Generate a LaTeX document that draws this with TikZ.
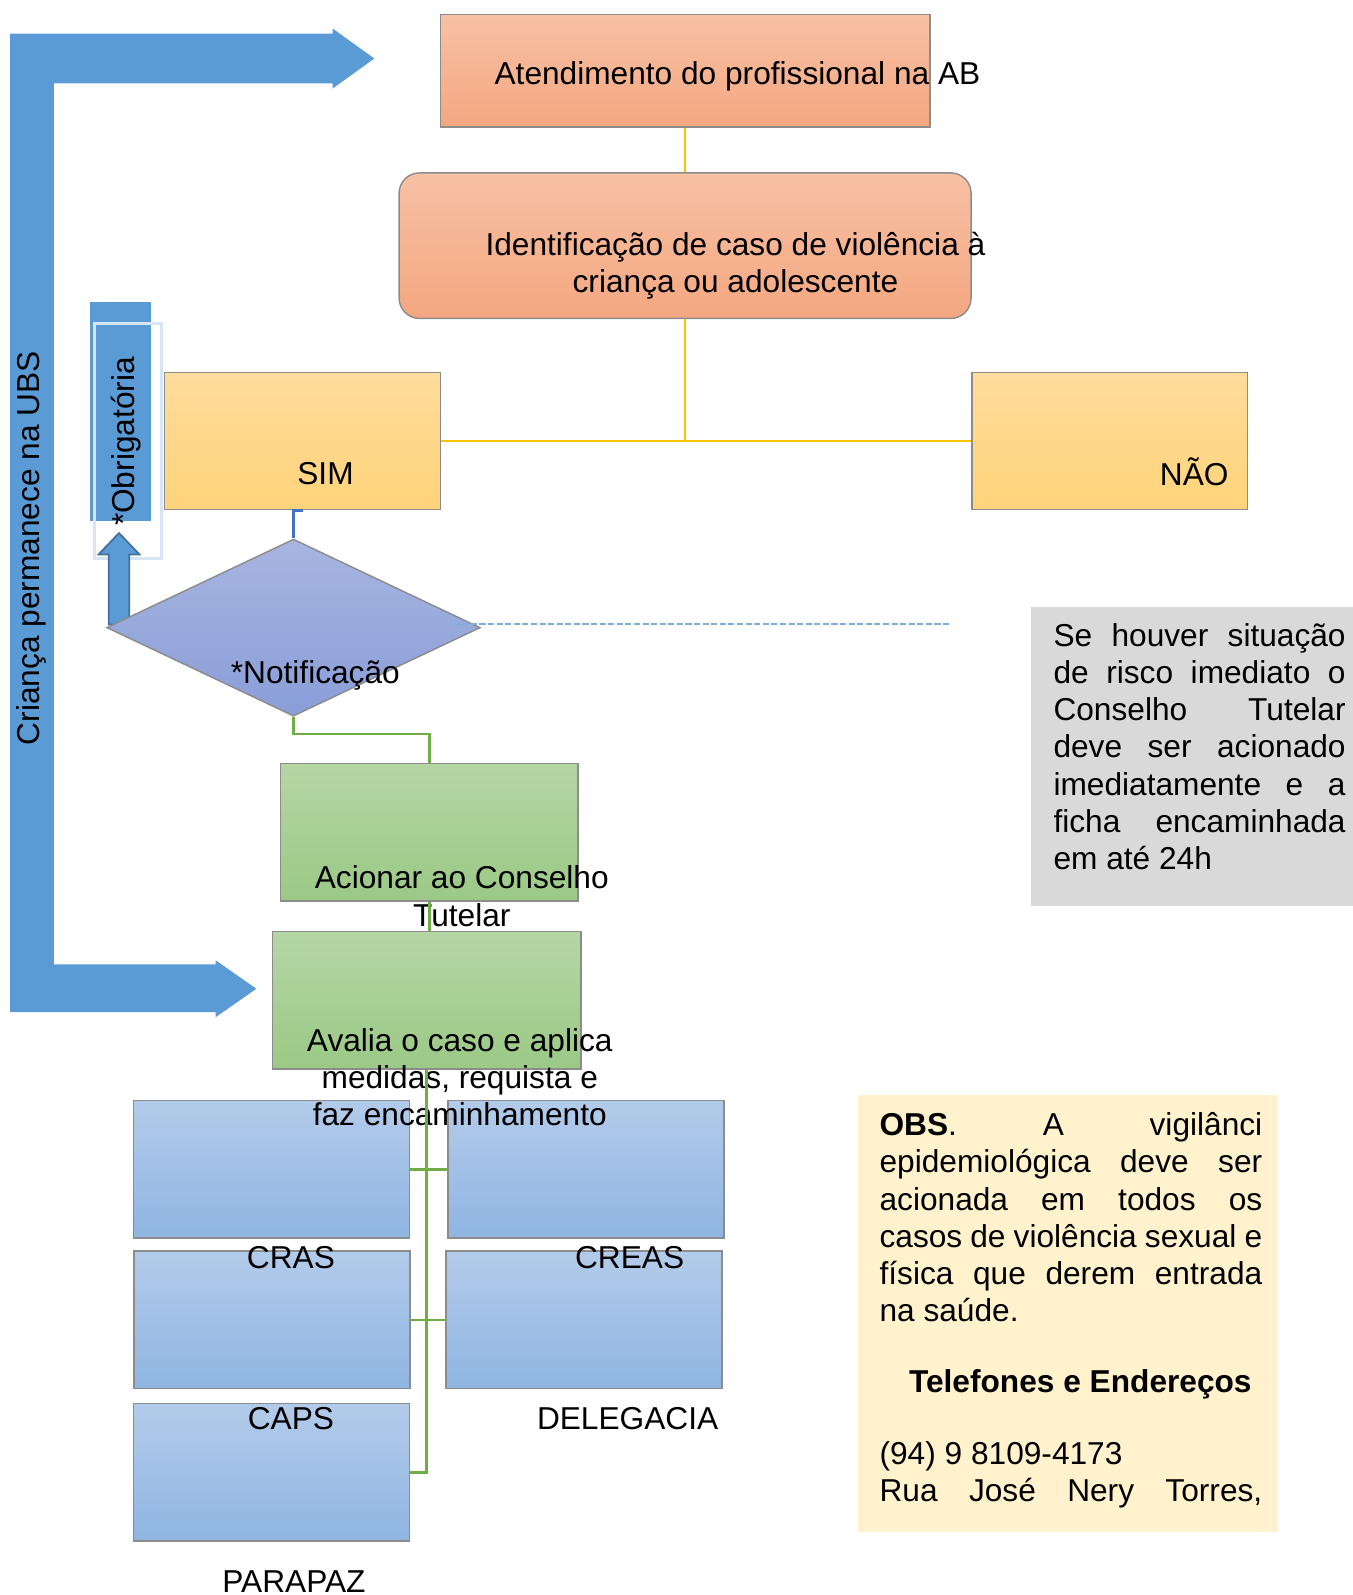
\documentclass[tikz,border=0pt]{standalone}
\usepackage{fontspec}
\setmainfont{Liberation Sans}
\usetikzlibrary{shapes.geometric,calc}

\definecolor{boxline}{RGB}{140,140,140}
\definecolor{salmonT}{RGB}{247,193,165}
\definecolor{salmonB}{RGB}{244,167,128}
\definecolor{yellowT}{RGB}{255,220,156}
\definecolor{yellowB}{RGB}{255,211,122}
\definecolor{diamT}{RGB}{167,181,224}
\definecolor{diamB}{RGB}{137,157,216}
\definecolor{greenT}{RGB}{181,214,165}
\definecolor{greenB}{RGB}{155,201,134}
\definecolor{blueT}{RGB}{179,203,234}
\definecolor{blueB}{RGB}{143,181,226}
\definecolor{arrowblue}{RGB}{91,155,213}
\definecolor{arrowedge}{RGB}{65,113,156}
\definecolor{obrigline}{RGB}{214,230,246}
\definecolor{gold}{RGB}{255,192,0}
\definecolor{linegreen}{RGB}{112,173,71}
\definecolor{lineblue}{RGB}{68,114,196}
\definecolor{notegray}{RGB}{217,217,217}
\definecolor{notecream}{RGB}{255,242,204}

\begin{document}
\begin{tikzpicture}[x=0.01cm, y=-0.01cm, font=\fontsize{8.85}{10.4}\selectfont,
    box/.style={draw=boxline, line width=0.4pt, inner sep=0pt},
    salmonbox/.style={box, top color=salmonT, bottom color=salmonB},
    yellowbox/.style={box, top color=yellowT, bottom color=yellowB, minimum width=2.71cm, minimum height=1.35cm},
    greenbox/.style={box, top color=greenT, bottom color=greenB, minimum height=1.35cm},
    bluebox/.style={box, top color=blueT, bottom color=blueB, minimum width=2.71cm, minimum height=1.35cm},
    lbl/.style={inner sep=0pt, align=center},
    notetxt/.style={inner sep=0pt, anchor=north west, align=justify},
    goldline/.style={draw=gold, line width=0.7pt},
    greenline/.style={draw=linegreen, line width=0.7pt},
    blueline/.style={draw=lineblue, line width=0.7pt},
    dashblue/.style={draw=arrowblue!80, line width=0.6pt, dash pattern=on 1.7pt off 0.7pt}]
    \useasboundingbox (0,0) rectangle (1330,1568);

    \fill[arrowblue] (10,33) -- (327,33) -- (327,28) -- (368,57.5) -- (327,87) -- (327,82)
      -- (53,82) -- (53,948) -- (212,948) -- (212,944) -- (252,972) -- (212,1000)
      -- (212,995) -- (10,995) -- cycle;
    \node[lbl, rotate=90] (ubstxt) at (31,539) {Criança permanece na UBS};

    \fill[arrowblue] (88,297) rectangle (148,512);
    \draw[obrigline, line width=0.8pt] (93,318) rectangle (159,549);
    \filldraw[fill=arrowblue, draw=arrowedge, line width=0.5pt] (107,614) -- (107,545) -- (97,545)
      -- (117,524) -- (137,545) -- (127,545) -- (127,614) -- cycle;
    \node[lbl, rotate=90] (obrigtxt) at (124,434) {*Obrigatória};

    \node[salmonbox, minimum width=4.81cm, minimum height=1.11cm] (atend) at (673.5,69.5) {};
    \node[salmonbox, rounded corners=0.2cm, minimum width=5.62cm, minimum height=1.43cm] (ident) at (673.5,241.5) {};
    \node[yellowbox] (sim) at (297.5,433.5) {};
    \node[yellowbox] (nao) at (1091,433.5) {};
    \node[diamond, box, top color=diamT, bottom color=diamB, minimum width=3.67cm, minimum height=1.74cm] (notif) at (288.5,617) {};
    \node[greenbox, minimum width=2.92cm] (acion) at (422,818) {};
    \node[greenbox, minimum width=3.03cm] (aval) at (419.5,983.5) {};
    \node[bluebox] (cras) at (267,1149.5) {};
    \node[bluebox] (creas) at (576,1149.5) {};
    \node[bluebox] (caps) at (267.5,1297.5) {};
    \node[bluebox] (deleg) at (574,1297.5) {};
    \node[bluebox] (parapaz) at (267,1447.5) {};

    \node[fill=notegray, minimum width=3.16cm, minimum height=2.94cm] (risco) at (1172,744) {};
    \node[fill=notecream, minimum width=4.12cm, minimum height=4.29cm] (obs) at (1050,1291.5) {};

    \node[lbl] (atendtxt) at (725,75) {Atendimento do profissional na AB};
    \node[lbl] (identtxt) at (723,261) {Identificação de caso de violência à\\criança ou adolescente};
    \node[lbl] (simtxt) at (320,466) {SIM};
    \node[lbl] (naotxt) at (1174,464) {NÃO};
    \node[lbl] (notiftxt) at (310,664) {*Notificação};
    \node[lbl] (aciontxt) at (454,881) {Acionar ao Conselho\\Tutelar};
    \node[lbl] (avaltxt) at (452,1059) {Avalia o caso e aplica\\medidas, requista e\\faz encaminhamento};
    \node[lbl] (crastxt) at (286,1236) {CRAS};
    \node[lbl] (creastxt) at (619,1236) {CREAS};
    \node[lbl] (capstxt) at (286,1395) {CAPS};
    \node[lbl] (delegtxt) at (617,1395) {DELEGACIA};
    \node[lbl] (parapaztxt) at (289,1555) {PARAPAZ};

    \node[notetxt, text width=2.87cm] (riscotxt) at (1035,612) {\tolerance=10000 Se houver situação\linebreak
      de risco imediato o\linebreak Conselho Tutelar\linebreak deve ser acionado\linebreak
      imediatamente e a\linebreak ficha encaminhada\linebreak em até 24h};
    \node[notetxt, text width=3.76cm] (obstxt) at (864,1093) {\tolerance=10000 \textbf{OBS}. A vigilânci\linebreak
      epidemiológica deve ser\linebreak acionada em todos os\linebreak casos de violência sexual e\linebreak
      física que derem entrada\linebreak na saúde.};
    \node[inner sep=0pt, anchor=north west, font=\fontsize{8.85}{10.4}\selectfont\bfseries] (teltxt) at (893,1346) {Telefones e Endereços};
    \node[notetxt, text width=3.76cm] (endtxt) at (864,1416) {(94) 9 8109-4173\\
      Rua\hfill José\hfill Nery\hfill Torres,};

    \coordinate (dashA) at (446,613);
    \coordinate (dashB) at (935,613);
    \draw[dashblue] (dashA) -- (dashB);

    \draw[goldline] (atend.south) -- (ident.north);
    \draw[goldline] (ident.south) -- (ident.south |- sim.east);
    \draw[goldline] (sim.east) -- (nao.west);
    \draw[blueline] (sim.south) -| (notif.north);
    \draw[greenline] (notif.south) -- ++(0,17) -| (acion.north);
    \draw[greenline] (acion.south) -- (acion.south |- aval.north);
    \draw[greenline] (aval.south) -- (aval.south |- parapaz.east) -- (parapaz.east);
    \draw[greenline] (cras.east) -- (creas.west);
    \draw[greenline] (caps.east) -- (deleg.west);
\end{tikzpicture}
\end{document}
